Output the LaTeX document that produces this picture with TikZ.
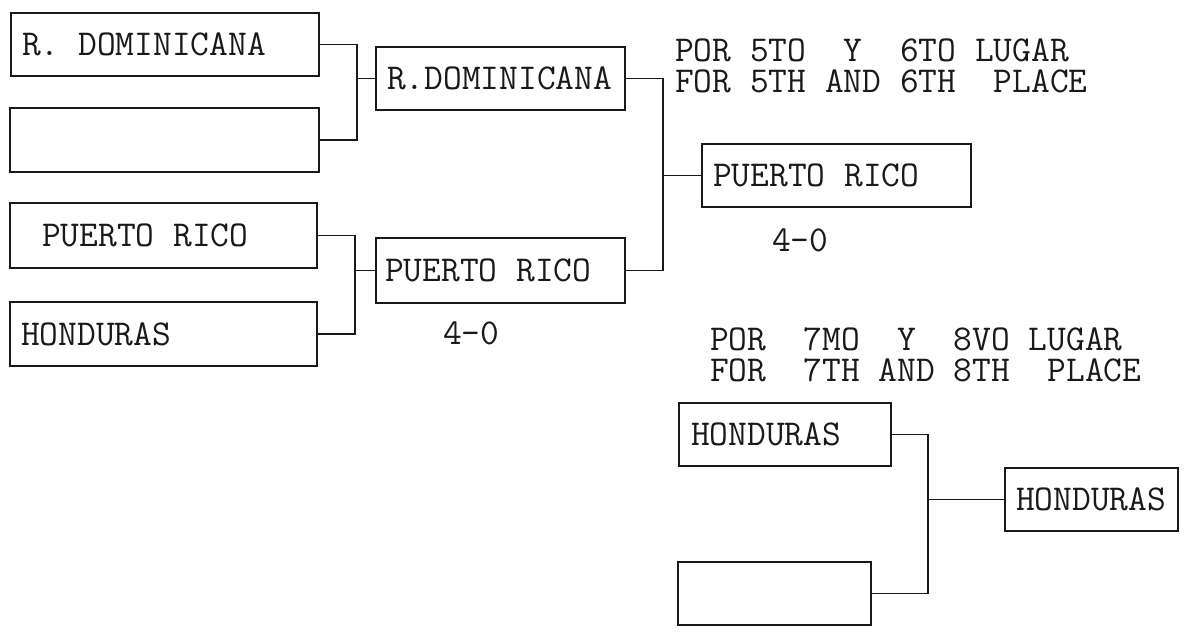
\documentclass[tikz,border=0pt]{standalone}
\usepackage{fontspec}
\begin{document}
\begin{tikzpicture}[x=1pt,y=-1pt,
  box/.style={draw=black!90, line width=1.7pt, inner sep=0pt, fill=none},
  txt/.style={inner sep=0pt, anchor=west, font=\ttfamily\fontsize{36.4}{31}\selectfont, text=black!90},
  conn/.style={draw=black!90, line width=1.7pt}]
\useasboundingbox[fill=white] (0,0) rectangle (1184,634);
% round 1 boxes
\node[box, minimum width=308pt, minimum height=63pt] (b1) at (165,44.5) {};
\node[box, minimum width=309pt, minimum height=64pt] (b2) at (164.5,140) {};
\node[box, minimum width=307pt, minimum height=65pt] (b3) at (163.5,235.5) {};
\node[box, minimum width=307pt, minimum height=64pt] (b4) at (163.5,334) {};
% round 2 boxes
\node[box, minimum width=249pt, minimum height=63pt] (b5) at (500.5,78.5) {};
\node[box, minimum width=249pt, minimum height=65pt] (b6) at (500.5,270.5) {};
% 5th/6th place
\node[box, minimum width=269pt, minimum height=63pt] (b7) at (836.5,175.5) {};
% 7th/8th
\node[box, minimum width=212pt, minimum height=63pt] (b8) at (785,434.5) {};
\node[box, minimum width=193pt, minimum height=63pt] (b9) at (774.5,593.5) {};
\node[box, minimum width=173pt, minimum height=63pt] (b10) at (1091.5,499.5) {};
% box texts
\node[txt] (t1) at (22,44.5) {R. DOMINICANA};
\node[txt] (t3) at (42,235.5) {PUERTO RICO};
\node[txt] (t4) at (21,334) {HONDURAS};
\node[txt] (t5) at (387,78.5) {R.DOMINICANA};
\node[txt] (t6) at (385,270.5) {PUERTO RICO};
\node[txt] (t7) at (713,175.5) {PUERTO RICO};
\node[txt] (t8) at (691,434.5) {HONDURAS};
\node[txt] (t10) at (1016,499.5) {HONDURAS};
% headings
\node[txt, align=left] (h1) at (675,66) {POR 5TO~~Y~~6TO LUGAR\\FOR 5TH AND 6TH~~PLACE};
\node[txt, align=left] (h2) at (710,355) {POR~~7MO~~Y~~8VO LUGAR\\FOR~~7TH AND 8TH~~PLACE};
% scores
\node[txt] (s1) at (443,333) {4-0};
\node[txt] (s2) at (772,240) {4-0};
% junctions
\coordinate (j1) at (357,78.5);
\coordinate (j2) at (355,270.5);
\coordinate (j3) at (663,175.5);
\coordinate (j4) at (928,499.5);
% connectors
\draw[conn] (b1.east) -| (j1) |- (b2.east);
\draw[conn] (j1) -- (b5.west);
\draw[conn] (b3.east) -| (j2) |- (b4.east);
\draw[conn] (j2) -- (b6.west);
\draw[conn] (b5.east) -| (j3) |- (b6.east);
\draw[conn] (j3) -- (b7.west);
\draw[conn] (b8.east) -| (j4) |- (b9.east);
\draw[conn] (j4) -- (b10.west);
\end{tikzpicture}
\end{document}
